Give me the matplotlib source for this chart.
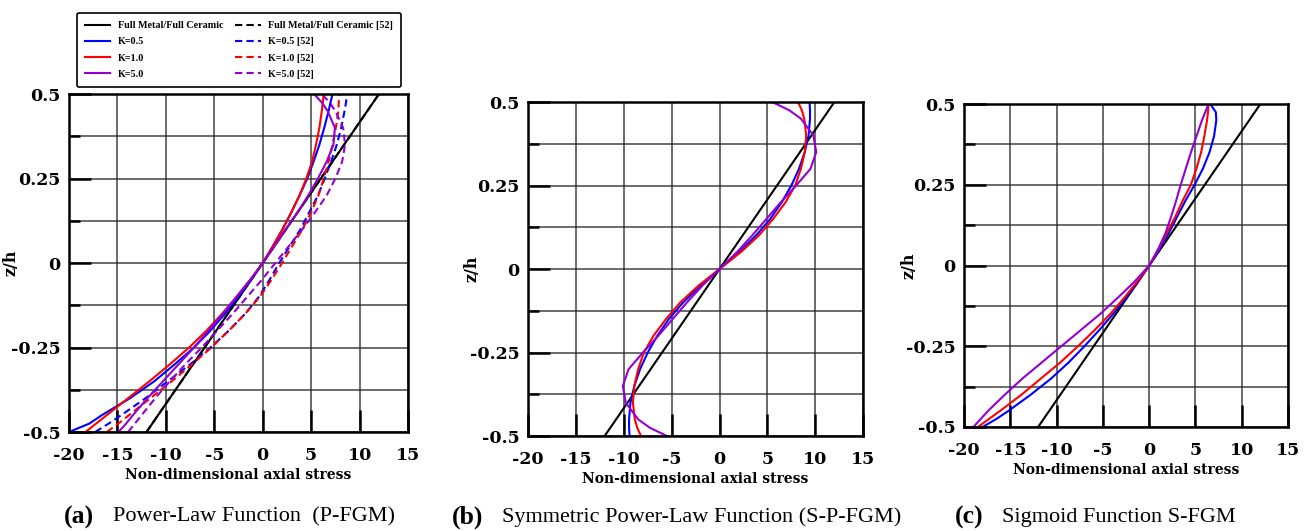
"""Axial stress through the thickness for P-FGM, S-P-FGM and S-FGM plates."""
import matplotlib
matplotlib.use("Agg")
import matplotlib.pyplot as plt
from matplotlib.lines import Line2D
from matplotlib.ticker import MultipleLocator, FixedLocator

plt.rcParams["axes.unicode_minus"] = False

BLUE = "#0000ff"
RED = "#ff0000"
PURPLE = "#9400d3"
BLACK = "#000000"

# thickness coordinate z/h shared by every curve
Z = [-0.5, -0.475, -0.45, -0.4, -0.35, -0.3, -0.25, -0.2, -0.15, -0.1, -0.05, 0.0,
     0.05, 0.1, 0.15, 0.2, 0.25, 0.3, 0.35, 0.4, 0.45, 0.475, 0.5]

# full metal / full ceramic (linear)
Z_LIN = [-0.5, 0.5]
S_LIN = [-12.0, 12.0]

# (a) P-FGM, present
A_K05 = [-20.0, -17.9, -16.6, -13.7, -11.2, -9.1, -7.1, -5.4, -3.9, -2.5, -1.2, 0.0,
         1.05, 2.05, 2.95, 3.8, 4.6, 5.25, 5.85, 6.35, 6.8, 7.0, 7.2]
A_K10 = [-18.3, -17.2, -16.1, -13.9, -11.7, -9.6, -7.6, -5.8, -4.2, -2.7, -1.3, 0.0,
         1.05, 2.05, 2.95, 3.8, 4.5, 5.1, 5.5, 5.85, 6.1, 6.2, 6.3]
A_K50 = [-14.9, -14.1, -13.4, -11.9, -10.3, -8.7, -7.1, -5.6, -4.1, -2.7, -1.3, 0.0,
         1.2, 2.4, 3.6, 4.7, 5.7, 6.6, 7.3, 7.45, 6.7, 6.1, 5.3]
# (a) P-FGM, reference [52]
A_K05_REF = [-17.3, -15.9, -14.6, -12.1, -9.8, -7.5, -5.4, -3.5, -1.8, -0.4, 0.7, 1.7,
             2.8, 3.9, 4.8, 5.7, 6.4, 7.05, 7.65, 8.1, 8.45, 8.6, 8.7]
A_K10_REF = [-16.1, -14.9, -13.8, -11.6, -9.4, -7.3, -5.3, -3.5, -1.8, -0.3, 0.9, 2.0,
             3.05, 4.1, 5.0, 5.75, 6.3, 6.8, 7.2, 7.55, 7.8, 7.85, 7.9]
A_K50_REF = [-13.9, -13.2, -12.5, -11.1, -9.6, -8.0, -6.3, -4.7, -3.1, -1.6, -0.1, 1.3,
             2.7, 4.1, 5.4, 6.6, 7.5, 8.2, 8.5, 8.3, 7.5, 6.9, 6.1]

# (b) S-P-FGM
B_K05 = [-9.4, -9.45, -9.45, -9.3, -8.9, -8.3, -7.5, -6.5, -5.3, -3.8, -2.0, 0.0,
         2.0, 3.8, 5.3, 6.5, 7.5, 8.3, 8.9, 9.3, 9.45, 9.45, 9.4]
B_K10 = [-8.2, -8.6, -8.85, -9.05, -8.9, -8.5, -7.9, -6.9, -5.6, -4.1, -2.2, 0.0,
         2.2, 4.1, 5.6, 6.9, 7.9, 8.5, 8.9, 9.05, 8.85, 8.6, 8.2]
B_K50 = [-5.5, -7.3, -8.5, -9.8, -10.1, -9.5, -8.0, -6.4, -4.9, -3.4, -1.8, 0.0,
         1.8, 3.4, 4.9, 6.4, 8.0, 9.5, 10.1, 9.8, 8.5, 7.3, 5.5]

# (c) S-FGM
C_K05 = [-18.0, -16.5, -15.2, -12.8, -10.6, -8.7, -7.0, -5.4, -3.9, -2.5, -1.2, 0.0,
         1.1, 2.1, 3.0, 3.9, 4.9, 5.8, 6.5, 7.0, 7.25, 7.2, 6.6]
C_K10 = [-18.5, -17.3, -16.1, -13.8, -11.7, -9.6, -7.7, -5.9, -4.2, -2.7, -1.3, 0.0,
         1.0, 1.9, 2.8, 3.6, 4.5, 5.1, 5.6, 5.95, 6.25, 6.35, 6.4]
C_K50 = [-19.0, -18.2, -17.4, -15.6, -13.7, -11.6, -9.5, -7.4, -5.3, -3.4, -1.6, 0.0,
         0.95, 1.75, 2.35, 2.9, 3.4, 3.95, 4.5, 5.1, 5.7, 6.05, 6.4]

X_TICKS = [-20, -15, -10, -5, 0, 5, 10, 15]
Y_TICKS = [-0.5, -0.25, 0, 0.25, 0.5]
Y_LABELS = ["-0.5", "-0.25", "0", "0.25", "0.5"]

LW = 1.5
DASH = (3.5, 2.0)


def style_axes(ax, ylab_x):
    ax.set_xlim(-20, 15)
    ax.set_ylim(-0.5, 0.5)
    ax.xaxis.set_major_locator(FixedLocator(X_TICKS))
    ax.yaxis.set_major_locator(FixedLocator(Y_TICKS))
    ax.yaxis.set_minor_locator(MultipleLocator(0.125))
    ax.set_yticklabels(Y_LABELS)
    ax.grid(True, which="both", color="#222222", lw=1.1, alpha=0.85)
    ax.tick_params(which="major", direction="in", length=16, width=1.8,
                   top=False, right=False)
    ax.tick_params(axis="x", which="major", pad=11)
    ax.tick_params(axis="y", which="major", pad=6)
    ax.tick_params(which="minor", axis="y", direction="in", length=8, width=1.8)
    ax.tick_params(which="minor", axis="x", length=0)
    for lab in ax.get_xticklabels() + ax.get_yticklabels():
        lab.set_fontfamily("DejaVu Serif")
        lab.set_fontweight("bold")
        lab.set_fontsize(12.5)
    for sp in ax.spines.values():
        sp.set_linewidth(1.8)
    ax.set_xlabel("Non-dimensional axial stress", family="DejaVu Serif",
                  weight="bold", size=10, labelpad=3)
    ax.set_ylabel("z/h", family="DejaVu Serif", weight="bold", size=11.5)
    ax.yaxis.set_label_coords(ylab_x, 0.5)
    ax.set_axisbelow(True)


fig = plt.figure(figsize=(13.09, 5.31), dpi=100)
ax_a = fig.add_axes([0.0527, 0.1864, 0.259, 0.6365])
ax_b = fig.add_axes([0.4034, 0.1789, 0.256, 0.629])
ax_c = fig.add_axes([0.7365, 0.1959, 0.2475, 0.608])

# (a)
ax_a.plot(S_LIN, Z_LIN, color=BLACK, lw=LW, dashes=DASH)
ax_a.plot(S_LIN, Z_LIN, color=BLACK, lw=LW)
for vals, col in [(A_K05_REF, BLUE), (A_K10_REF, RED), (A_K50_REF, PURPLE)]:
    ax_a.plot(vals, Z, color=col, lw=LW, dashes=DASH)
for vals, col in [(A_K05, BLUE), (A_K10, RED), (A_K50, PURPLE)]:
    ax_a.plot(vals, Z, color=col, lw=LW)

# (b)
ax_b.plot(S_LIN, Z_LIN, color=BLACK, lw=LW)
for vals, col in [(B_K05, BLUE), (B_K10, RED), (B_K50, PURPLE)]:
    ax_b.plot(vals, Z, color=col, lw=LW)

# (c)
ax_c.plot(S_LIN, Z_LIN, color=BLACK, lw=LW)
for vals, col in [(C_K05, BLUE), (C_K10, RED), (C_K50, PURPLE)]:
    ax_c.plot(vals, Z, color=col, lw=LW)

style_axes(ax_a, -0.147)
style_axes(ax_b, -0.143)
style_axes(ax_c, -0.145)

handles = [
    Line2D([], [], color=BLACK, lw=LW),
    Line2D([], [], color=BLUE, lw=LW),
    Line2D([], [], color=RED, lw=LW),
    Line2D([], [], color=PURPLE, lw=LW),
    Line2D([], [], color=BLACK, lw=LW, dashes=DASH),
    Line2D([], [], color=BLUE, lw=LW, dashes=DASH),
    Line2D([], [], color=RED, lw=LW, dashes=DASH),
    Line2D([], [], color=PURPLE, lw=LW, dashes=DASH),
]
labels = ["Full Metal/Full Ceramic", "K=0.5", "K=1.0", "K=5.0",
          "Full Metal/Full Ceramic [52]", "K=0.5 [52]", "K=1.0 [52]", "K=5.0 [52]"]
leg = fig.legend(handles, labels, ncol=2, loc="upper left",
                 bbox_to_anchor=(77 / 1309, 1 - 13 / 531), borderaxespad=0,
                 prop=dict(family="Liberation Serif", weight="bold", size=7.3),
                 handlelength=2.5, handletextpad=0.7, columnspacing=1.2,
                 labelspacing=0.7, borderpad=0.8, frameon=True, fancybox=True)
leg.get_frame().set_edgecolor("black")
leg.get_frame().set_linewidth(1.2)
leg.get_frame().set_alpha(1)

caps = [(64, 113, "(a)", "Power-Law Function  (P-FGM)"),
        (452, 502, "(b)", "Symmetric Power-Law Function (S-P-FGM)"),
        (955, 1002, "(c)", "Sigmoid Function S-FGM")]
for xl, xt, tag, txt in caps:
    fig.text(xl / 1309, 0.026, tag, family="Liberation Serif", weight="bold",
             size=18.5, va="center", ha="left")
    fig.text(xt / 1309, 0.026, txt, family="Liberation Serif", size=16,
             va="center", ha="left")

fig.savefig("out.png", dpi=100)
